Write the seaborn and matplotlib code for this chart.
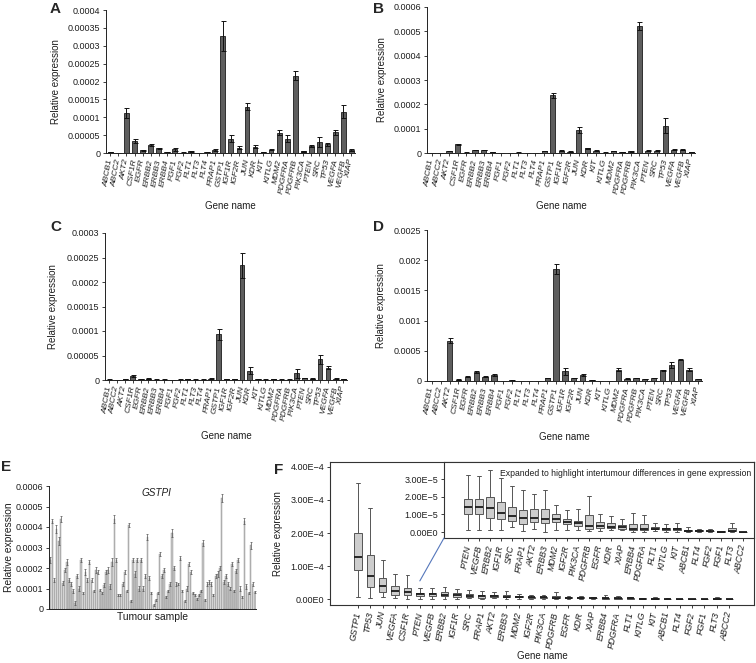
import numpy as np
import pandas as pd
import matplotlib
matplotlib.use('Agg')
import matplotlib.pyplot as plt
import seaborn as sns
from matplotlib.patches import ConnectionPatch

sns.set_style('ticks')
plt.rcParams['font.family'] = ['Liberation Sans', 'DejaVu Sans']
plt.rcParams['axes.unicode_minus'] = True

genes = ['ABCB1', 'ABCC2', 'AKT2', 'CSF1R', 'EGFR', 'ERBB2', 'ERBB3', 'ERBB4', 'FGF1', 'FGF2',
         'FLT1', 'FLT3', 'FLT4', 'FRAP1', 'GSTP1', 'IGF1R', 'IGF2R', 'JUN', 'KDR', 'KIT',
         'KITLG', 'MDM2', 'PDGFRA', 'PDGFRB', 'PIK3CA', 'PTEN', 'SRC', 'TP53', 'VEGFA', 'VEGFB', 'XIAP']

# Panel A (x1e-5)
a_vals = [0.3, 0, 11.2, 3.3, 0.7, 2.2, 1.3, 0.2, 1.0, 0.1, 0.5, 0, 0.2, 0.8, 32.7, 4.0, 1.5, 13.0, 1.8, 0.3,
          0.9, 5.7, 4.0, 21.6, 0.5, 2.0, 3.2, 2.4, 5.8, 11.6, 0.8]
a_err = [0.05, 0, 1.3, 0.5, 0.1, 0.3, 0.2, 0.05, 0.4, 0.05, 0.1, 0, 0.05, 0.2, 4.3, 0.9, 0.5, 0.9, 0.5, 0.1,
         0.2, 0.8, 0.9, 1.3, 0.1, 0.2, 1.4, 0.4, 0.7, 1.7, 0.3]
# Panel B (x1e-5)
b_vals = [0.1, 0.1, 0.9, 3.6, 0.2, 1.2, 1.2, 0.4, 0.1, 0.1, 0.2, 0.1, 0.1, 0.8, 23.8, 1.0, 0.6, 9.5, 2.0, 1.0,
          0.2, 0.9, 0.4, 0.7, 52.2, 1.0, 1.0, 11.3, 1.4, 1.4, 0.4]
b_err = [0.05, 0.05, 0.1, 0.3, 0.05, 0.1, 0.1, 0.05, 0.05, 0.05, 0.05, 0.05, 0.05, 0.1, 1.0, 0.1, 0.1, 1.2, 0.2, 0.1,
         0.05, 0.1, 0.05, 0.1, 1.5, 0.1, 0.1, 3.0, 0.1, 0.1, 0.05]
# Panel C (x1e-5)
c_vals = [0.1, 0, 0.2, 0.8, 0.2, 0.3, 0.1, 0.1, 0, 0.1, 0.2, 0.1, 0.1, 0.3, 9.3, 0.2, 0.2, 23.4, 1.9, 0.2,
          0.1, 0.2, 0.1, 0.1, 1.4, 0.4, 0.3, 4.2, 2.5, 0.3, 0.2]
c_err = [0.02, 0, 0.05, 0.15, 0.05, 0.05, 0.02, 0.02, 0, 0.02, 0.05, 0.02, 0.02, 0.05, 1.2, 0.05, 0.05, 2.6, 0.7, 0.05,
         0.02, 0.05, 0.02, 0.02, 0.9, 0.05, 0.05, 1.0, 0.3, 0.05, 0.05]
# Panel D (x1e-4)
d_vals = [0.05, 0.02, 6.7, 0.2, 0.7, 1.5, 0.7, 1.0, 0.02, 0.1, 0.05, 0.02, 0.05, 0.5, 18.5, 1.6, 0.5, 1.0, 0.2, 0.05,
          0.05, 1.9, 0.4, 0.5, 0.3, 0.5, 1.8, 2.6, 3.5, 1.9, 0.3]
d_err = [0.02, 0.01, 0.4, 0.05, 0.05, 0.1, 0.05, 0.1, 0.01, 0.02, 0.02, 0.01, 0.02, 0.05, 0.8, 0.6, 0.05, 0.1, 0.02, 0.02,
         0.02, 0.2, 0.05, 0.05, 0.05, 0.05, 0.1, 0.5, 0.1, 0.2, 0.05]

# Panel E: GSTP1 per tumour sample (x1e-4)
e_vals = [2.4, 4.3, 1.4, 3.9, 3.3, 4.4, 1.25, 1.9, 2.3, 1.4,
          1.2, 0.9, 0.3, 1.6, 1.0, 2.4, 0.8, 1.8, 1.4, 2.3,
          1.4, 0.9, 1.9, 1.8, 0.95, 0.8, 1.15, 1.8, 1.9, 1.1,
          2.3, 4.4, 2.4, 0.7, 0.7, 1.2, 1.8, 0.9, 4.1, 0.4,
          2.4, 1.7, 2.4, 1.0, 2.4, 1.0, 1.6, 3.5, 1.5, 0.8,
          0.2, 0.45, 0.8, 2.7, 1.6, 1.9, 0.6, 0.9, 1.2, 3.7,
          2.0, 1.2, 1.2, 2.5, 0.9, 0.4, 1.0, 2.2, 1.8, 0.8,
          0.7, 0.5, 0.7, 0.9, 3.2, 0.45, 1.2, 1.3, 1.2, 0.7,
          1.6, 1.7, 2.0, 5.4, 1.3, 1.6, 1.2, 1.0, 2.2, 0.9,
          1.85, 2.4, 1.0, 0.6, 4.3, 1.1, 0.8, 3.1, 1.2, 0.85]
e_err = [0.15, 0.1, 0.1, 0.2, 0.2, 0.15, 0.1, 0.1, 0.15, 0.1,
         0.1, 0.1, 0.1, 0.1, 0.1, 0.1, 0.05, 0.15, 0.1, 0.1,
         0.1, 0.05, 0.15, 0.1, 0.05, 0.05, 0.1, 0.1, 0.15, 0.1,
         0.2, 0.2, 0.1, 0.05, 0.05, 0.1, 0.1, 0.05, 0.1, 0.05,
         0.1, 0.15, 0.1, 0.1, 0.1, 0.1, 0.1, 0.15, 0.1, 0.05,
         0.05, 0.05, 0.05, 0.1, 0.1, 0.1, 0.05, 0.05, 0.1, 0.2,
         0.1, 0.1, 0.05, 0.1, 0.05, 0.05, 0.1, 0.1, 0.1, 0.05,
         0.05, 0.05, 0.05, 0.05, 0.15, 0.05, 0.1, 0.1, 0.1, 0.05,
         0.1, 0.15, 0.1, 0.2, 0.1, 0.1, 0.1, 0.05, 0.1, 0.05,
         0.1, 0.1, 0.1, 0.05, 0.15, 0.1, 0.05, 0.15, 0.1, 0.05]

# Panel F: box statistics per gene (x1e-5), sorted by median
f_genes = ['GSTP1', 'TP53', 'JUN', 'VEGFA', 'CSF1R', 'PTEN', 'VEGFB', 'ERBB2', 'IGF1R', 'SRC',
           'FRAP1', 'AKT2', 'ERBB3', 'MDM2', 'IGF2R', 'PIK3CA', 'PDGFRB', 'EGFR', 'KDR', 'XIAP',
           'ERBB4', 'PDGFRA', 'FLT1', 'KITLG', 'KIT', 'ABCB1', 'FLT4', 'FGF2', 'FGF1', 'FLT3', 'ABCC2']
f_low = [0.7, 0.2, 0.5, 0.2, 0.1, 0.1, 0.1, 0.1, 0.1, 0.3,
         0.05, 0.2, 0.0, 0.1, 0.1, 0.1, 0.05, 0.05, 0.1, 0.1,
         0.0, 0.0, 0.05, 0.0, 0.0, 0.0, 0.0, 0.0, 0.0, 0.0, 0.0]
f_q1 = [8.7, 3.5, 2.0, 1.3, 1.2, 1.0, 1.0, 0.8, 0.75, 0.6,
        0.45, 0.55, 0.5, 0.55, 0.45, 0.35, 0.2, 0.25, 0.25, 0.2,
        0.1, 0.1, 0.15, 0.1, 0.1, 0.05, 0.05, 0.03, 0.01, 0.05, 0.0]
f_med = [12.7, 7.0, 4.0, 2.5, 2.1, 1.45, 1.4, 1.35, 1.1, 0.9,
         0.8, 0.8, 0.75, 0.75, 0.55, 0.5, 0.35, 0.35, 0.3, 0.3,
         0.2, 0.2, 0.2, 0.15, 0.15, 0.08, 0.07, 0.05, 0.02, 0.07, 0.0]
f_q3 = [20.0, 13.3, 6.5, 4.0, 3.3, 1.9, 1.9, 2.0, 1.7, 1.4,
        1.25, 1.3, 1.3, 1.0, 0.75, 0.65, 0.95, 0.55, 0.5, 0.4,
        0.45, 0.45, 0.3, 0.25, 0.25, 0.1, 0.1, 0.07, 0.03, 0.25, 0.01]
f_high = [35.2, 27.5, 11.7, 7.7, 7.2, 3.25, 3.2, 3.55, 3.05, 2.6,
          2.4, 2.15, 2.4, 1.55, 1.25, 1.3, 2.05, 1.0, 0.9, 0.75,
          1.1, 0.95, 0.5, 0.45, 0.5, 0.3, 0.15, 0.15, 0.05, 0.5, 0.02]
inset_start = 'PTEN'

TXT = '#1e1e1e'
W, H = 756, 663
fig = plt.figure(figsize=(W / 100, H / 100), dpi=100)


def add_ax(l, r, t, b):
    return fig.add_axes([l / W, 1 - b / H, (r - l) / W, (b - t) / H])


def fmt(v):
    return '0' if v == 0 else np.format_float_positional(v, trim='-')


def bar_panel(ax, vals, errs, scale, ymax, ystep, letter, ylab_x, xlab_y, lab_x, lab_y):
    y = np.array(vals) * scale
    e = np.array(errs) * scale
    x = np.arange(len(genes))
    sns.barplot(x=genes, y=y, ax=ax, color='#5e5e5e', saturation=1, width=0.6,
                edgecolor='#1c1c1c', linewidth=0.6, errorbar=None)
    ax.errorbar(x, y, yerr=e, fmt='none', ecolor='#111111', elinewidth=0.7,
                capsize=1.8, capthick=0.7)
    ticks = [round(i * ystep, 8) for i in range(int(round(ymax / ystep)) + 1)]
    ax.set_ylim(0, ymax)
    ax.set_xlim(-0.55, 30.45)
    ax.set_yticks(ticks)
    ax.set_yticklabels([fmt(t) for t in ticks], fontsize=6.5)
    ax.set_xticks(x)
    ax.set_xticklabels(genes, rotation=80, fontstyle='italic', fontsize=6.0,
                       ha='right', va='center', rotation_mode='anchor')
    ax.tick_params(axis='both', length=2.5, width=0.6, pad=1.5, colors=TXT)
    ax.tick_params(axis='x', pad=2)
    sns.despine(ax=ax)
    for s in ['left', 'bottom']:
        ax.spines[s].set_linewidth(0.7)
        ax.spines[s].set_color('#222222')
    ax.set_ylabel('Relative expression', fontsize=7, color=TXT)
    ax.set_xlabel('Gene name', fontsize=7, color=TXT)
    ax.yaxis.set_label_coords(ylab_x, 0.5)
    ax.xaxis.set_label_coords(0.5, xlab_y)
    fig.text(lab_x / W, 1 - lab_y / H, letter, fontsize=11, fontweight='bold',
             ha='left', va='center')


axA = add_ax(106, 355, 10, 153)
bar_panel(axA, a_vals, a_err, 1e-5, 0.0004, 0.00005, 'A', -0.18, -0.335, 50, 9)
axB = add_ax(427, 695, 7, 153)
bar_panel(axB, b_vals, b_err, 1e-5, 0.0006, 0.0001, 'B', -0.15, -0.33, 373, 9)
axC = add_ax(105, 347, 233, 380)
bar_panel(axC, c_vals, c_err, 1e-5, 0.0003, 0.00005, 'C', -0.195, -0.35, 50, 227)
axD = add_ax(427, 702, 230, 381)
bar_panel(axD, d_vals, d_err, 1e-4, 0.0025, 0.0005, 'D', -0.15, -0.335, 373, 227)

# Panel E
axE = add_ax(49, 256, 486, 609)
ey = np.array(e_vals) * 1e-4
ee = np.array(e_err) * 1e-4
ex = np.arange(len(e_vals))
sns.barplot(x=ex, y=ey, ax=axE, color='#c6c6c6', saturation=1, width=0.72,
            edgecolor='#8c8c8c', linewidth=0.3, errorbar=None)
axE.errorbar(ex, ey, yerr=ee, fmt='none', ecolor='#555555', elinewidth=0.5,
             capsize=0.7, capthick=0.5)
axE.set_xlim(-0.6, len(e_vals) - 0.4)
axE.set_ylim(0, 0.0006)
eticks = [round(i * 0.0001, 6) for i in range(7)]
axE.set_yticks(eticks)
axE.set_yticklabels([fmt(t) for t in eticks], fontsize=6.5)
axE.set_xticks([])
axE.tick_params(axis='y', length=2.5, width=0.6, pad=1.5, colors=TXT)
sns.despine(ax=axE)
for s in ['left', 'bottom']:
    axE.spines[s].set_linewidth(0.7)
    axE.spines[s].set_color('#222222')
axE.set_ylabel('Relative expression', fontsize=7.4, color=TXT)
axE.yaxis.set_label_coords(-0.17, 0.5)
axE.set_xlabel('Tumour sample', fontsize=7.4, color=TXT)
axE.xaxis.set_label_coords(0.5, -0.025)
axE.text(0.52, 0.94, 'GSTPI', transform=axE.transAxes, fontsize=7.2,
         fontstyle='italic', ha='center', va='center', color=TXT)
fig.text(1 / W, 1 - 467 / H, 'E', fontsize=11, fontweight='bold', ha='left', va='center')

# Panel F
rows = []
for g, lo, q1, md, q3, hi in zip(f_genes, f_low, f_q1, f_med, f_q3, f_high):
    for v in (lo, q1, md, q3, hi):
        rows.append((g, v * 1e-5))
df = pd.DataFrame(rows, columns=['gene', 'value'])

box_kw = dict(whis=(0, 100), color='#cdcdcd', saturation=1, linecolor='#555555',
              linewidth=0.7, fliersize=0,
              medianprops=dict(color='#1a1a1a', linewidth=1.3))

axF = add_ax(330, 754, 462, 605)
sns.boxplot(data=df, x='gene', y='value', order=f_genes, ax=axF, width=0.6, **box_kw)
axF.set_xlim(-2.26, 32.0)
axF.set_ylim(-0.18e-4, 4.15e-4)
fticks = [0, 1e-4, 2e-4, 3e-4, 4e-4]
axF.set_yticks(fticks)
axF.set_yticklabels(['0.00E0', '1.00E\u22124', '2.00E\u22124', '3.00E\u22124', '4.00E\u22124'], fontsize=6.5)
axF.set_xticks(range(len(f_genes)))
axF.set_xticklabels(f_genes, rotation=80, fontstyle='italic', fontsize=6.4,
                    ha='right', va='center', rotation_mode='anchor')
axF.tick_params(axis='both', length=2.5, width=0.6, pad=1.5, colors=TXT)
axF.tick_params(axis='x', pad=2.5)
for s in axF.spines.values():
    s.set_linewidth(0.8)
    s.set_color('#333333')
axF.set_ylabel('Relative expression', fontsize=7, color=TXT)
axF.yaxis.set_label_coords(-0.11, 0.5)
axF.set_xlabel('Gene name', fontsize=7, color=TXT)
axF.xaxis.set_label_coords(0.5, -0.325)
fig.text(274 / W, 1 - 470 / H, 'F', fontsize=11, fontweight='bold', ha='left', va='center')

axI = add_ax(444, 754, 462, 538)
inset_genes = f_genes[f_genes.index(inset_start):]
sns.boxplot(data=df[df['gene'].isin(inset_genes)], x='gene', y='value', order=inset_genes,
            ax=axI, width=0.65, **box_kw)
axI.set_xlim(-2.18, 26.0)
axI.set_ylim(-0.34e-5, 3.98e-5)
iticks = [0, 1e-5, 2e-5, 3e-5]
axI.set_yticks(iticks)
axI.set_yticklabels(['0.00E0', '1.00E\u22125', '2.00E\u22125', '3.00E\u22125'], fontsize=6.5)
axI.set_xticks(range(len(inset_genes)))
axI.set_xticklabels(inset_genes, rotation=80, fontstyle='italic', fontsize=6.3,
                    ha='right', va='center', rotation_mode='anchor')
axI.tick_params(axis='both', length=2.5, width=0.6, pad=1.5, colors=TXT)
axI.tick_params(axis='x', pad=2.5)
axI.set_xlabel('')
axI.set_ylabel('')
for s in axI.spines.values():
    s.set_linewidth(0.8)
    s.set_color('#333333')
axI.text(0.585, 0.855, 'Expanded to highlight intertumour differences in gene expression',
         transform=axI.transAxes, fontsize=6.2, ha='center', va='center', color=TXT)

con = ConnectionPatch(xyA=(f_genes.index(inset_start), 0.55e-4), coordsA=axF.transData,
                      xyB=(0, 0), coordsB=axI.transAxes, color='#5577bb', lw=0.8)
fig.add_artist(con)

fig.savefig('out.png', dpi=100)
